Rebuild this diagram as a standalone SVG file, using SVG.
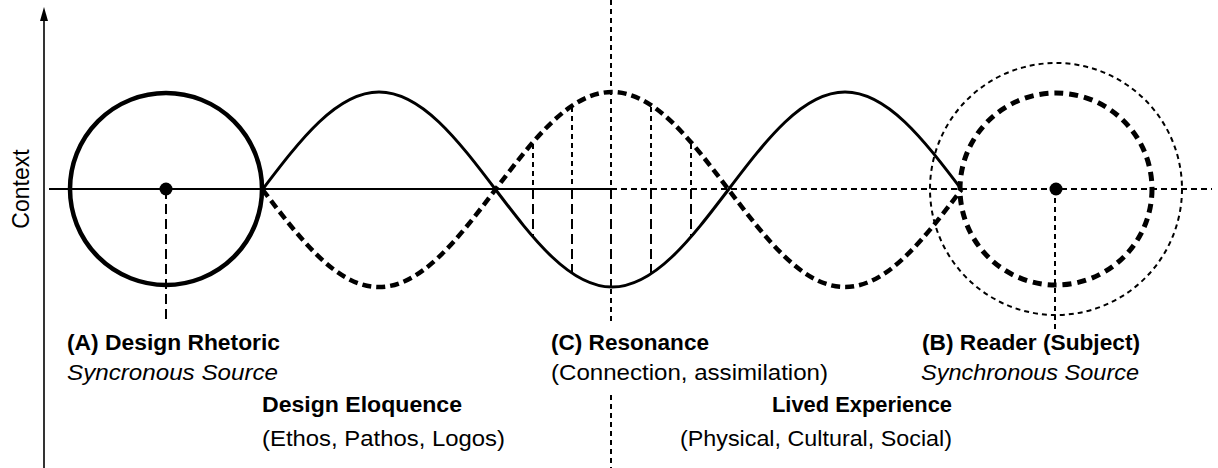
<svg xmlns="http://www.w3.org/2000/svg" width="1218" height="468" viewBox="0 0 1218 468">
<style>
text{font-family:"Liberation Sans",Arial,sans-serif;fill:#000}
.b{font-weight:bold;font-size:22px}
.r{font-size:22.5px}
.i{font-style:italic;font-size:22.5px}
.ctx{font-size:23px}
.ln{fill:none;stroke:#000}
.dot{stroke-dasharray:5 4;stroke-width:2}
.dash{stroke-dasharray:10 5;stroke-width:2}
</style>
<rect width="1218" height="468" fill="#fff"/>
<g id="axis">
<line class="ln" x1="44" y1="468" x2="44" y2="20" stroke-width="1.6"/>
<path d="M40,21 L44,7 L48,21 Z" fill="#000"/>
<text class="ctx" transform="translate(29,189) rotate(-90)" text-anchor="middle">Context</text>
</g>
<g id="connectors">
<line class="ln" x1="49" y1="189" x2="611" y2="189" stroke-width="2"/>
<line class="ln" x1="611" y1="189" x2="1212" y2="189" stroke-width="2" stroke-dasharray="6 4"/>
<line class="ln dot" x1="611" y1="0" x2="611" y2="189"/>
<line class="ln dash" x1="611" y1="189" x2="611" y2="287"/>
<line class="ln dot" x1="611" y1="289" x2="611" y2="324"/>
<line class="ln dot" x1="611" y1="395" x2="611" y2="468"/>
<path class="ln" stroke-width="3" d="M262.5,189.5 C300.5,139.5 336.8,92 379,92 C421.2,92 457.5,139.5 495.5,189.5 C533.5,239.5 569.8,287 612,287 C654.2,287 690.5,239.5 728.5,189.5 C766.5,139.5 802.8,92 845,92 C887.2,92 923.5,139.5 961.5,189.5"/>
<path class="ln" stroke-width="4.5" stroke-dasharray="9 5" d="M262.5,189.5 C300.5,239.5 336.8,287 379,287 C421.2,287 457.5,239.5 495.5,189.5 C533.5,139.5 569.8,92 612,92 C654.2,92 690.5,139.5 728.5,189.5 C766.5,239.5 802.8,287 845,287 C887.2,287 923.5,239.5 961.5,189.5"/>
<line class="ln dot" x1="533" y1="144" x2="533" y2="189"/>
<line class="ln dot" x1="572" y1="107" x2="572" y2="189"/>
<line class="ln dot" x1="651" y1="107" x2="651" y2="189"/>
<line class="ln dot" x1="691" y1="144" x2="691" y2="189"/>
<line class="ln dash" x1="533" y1="189" x2="533" y2="236"/>
<line class="ln dash" x1="572" y1="189" x2="572" y2="273"/>
<line class="ln dash" x1="651" y1="189" x2="651" y2="273"/>
<line class="ln dash" x1="691" y1="189" x2="691" y2="236"/>
<line class="ln dash" x1="166" y1="189" x2="166" y2="323"/>
<line class="ln dot" x1="1055" y1="189" x2="1055" y2="330"/>
</g>
<g id="nodeA">
<circle class="ln" cx="166" cy="189" r="96" stroke-width="4.5"/>
<circle cx="166" cy="189" r="6.5" fill="#000"/>
<text class="b" x="67" y="350" textLength="213" lengthAdjust="spacingAndGlyphs">(A) Design Rhetoric</text>
<text class="i" x="67" y="380" textLength="211" lengthAdjust="spacingAndGlyphs">Syncronous Source</text>
</g>
<g id="nodeEloquence">
<text class="b" x="262" y="412" textLength="200" lengthAdjust="spacingAndGlyphs">Design Eloquence</text>
<text class="r" x="262" y="446" textLength="243" lengthAdjust="spacingAndGlyphs">(Ethos, Pathos, Logos)</text>
</g>
<g id="nodeC">
<text class="b" x="551" y="350" textLength="158" lengthAdjust="spacingAndGlyphs">(C) Resonance</text>
<text class="r" x="551" y="380" textLength="277" lengthAdjust="spacingAndGlyphs">(Connection, assimilation)</text>
</g>
<g id="nodeLived">
<text class="b" x="772" y="412" textLength="180" lengthAdjust="spacingAndGlyphs">Lived Experience</text>
<text class="r" x="680" y="446" textLength="272" lengthAdjust="spacingAndGlyphs">(Physical, Cultural, Social)</text>
</g>
<g id="nodeB">
<circle class="ln" cx="1056" cy="189" r="126" stroke-width="2" stroke-dasharray="5 4"/>
<circle class="ln" cx="1056" cy="189" r="96" stroke-width="5" stroke-dasharray="9 6"/>
<circle cx="1056" cy="189" r="6.5" fill="#000"/>
<text class="b" x="922" y="350" textLength="218" lengthAdjust="spacingAndGlyphs">(B) Reader (Subject)</text>
<text class="i" x="921" y="380" textLength="218" lengthAdjust="spacingAndGlyphs">Synchronous Source</text>
</g>
</svg>
